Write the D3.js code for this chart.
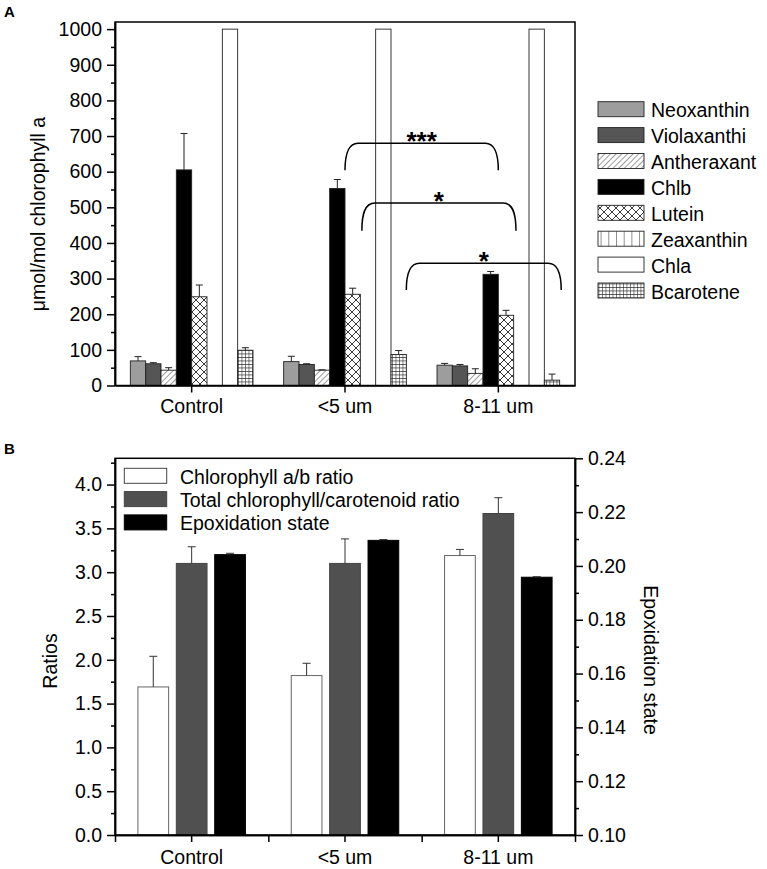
<!DOCTYPE html>
<html><head><meta charset="utf-8">
<script src="https://cdn.jsdelivr.net/npm/d3@7"></script>
<style>
body{margin:0;background:#fff;}
text{font-family:"Liberation Sans",Arial,sans-serif;fill:#000;}
</style></head>
<body><svg id="c" width="767" height="869"></svg>
<script>
// ---------- data ----------
const categories = ["Control", "<5 um", "8-11 um"];
const pigments = ["Neoxanthin","Violaxanthi","Antheraxant","Chlb","Lutein","Zeaxanthin","Chla","Bcarotene"];
const neoxanthin = [69, 67, 57];      const neoxanthinErr = [12, 15, 5];
const violaxanthin = [61, 59, 55];    const violaxanthinErr = [3, 2, 4];
const antheraxanthin = [43, 43, 34];  const antheraxanthinErr = [7, 1, 13];
const chlb = [605, 553, 312];         const chlbErr = [102, 25, 8];
const lutein = [249, 256, 197];       const luteinErr = [33, 17, 14];
const zeaxanthin = [0, 0, 0];         const zeaxanthinErr = [0, 0, 0];
const chla = [1000, 1000, 1000];      const chlaErr = [0, 0, 0];
const bcarotene = [99, 87, 15];       const bcaroteneErr = [7, 11, 17];
const yTicksA = [0,100,200,300,400,500,600,700,800,900,1000];

// significance brackets (category-index units, values in umol/mol)
const bracketStart = [1.0, 1.11, 1.40];
const bracketEnd = [2.0, 2.115, 2.41];
const bracketTop = [680, 512, 343];
const bracketBottom = [604, 434, 268];
const bracketLabel = ["***", "*", "*"];

const ratioSeries = ["Chlorophyll a/b ratio", "Total chlorophyll/carotenoid ratio", "Epoxidation state"];
const abRatio = [1.69, 1.82, 3.19];   const abRatioErr = [0.35, 0.14, 0.07];
const chlCar = [3.10, 3.10, 3.67];    const chlCarErr = [0.19, 0.28, 0.18];
const epox = [0.2042, 0.2095, 0.1958]; const epoxErr = [0.0005, 0.0003, 0.0002];
const yTicksBLeft = [0,0.5,1,1.5,2,2.5,3,3.5,4];
const yTicksBRight = [0.10,0.12,0.14,0.16,0.18,0.20,0.22,0.24];

// ---------- setup ----------
const svg = d3.select("#c");
const FS = 19.5;
const defs = svg.append("defs");
function pat(id, w, h, draw, transform){
  const p = defs.append("pattern").attr("id", id).attr("patternUnits","userSpaceOnUse")
    .attr("width", w).attr("height", h);
  if (transform) p.attr("patternTransform", transform);
  p.append("rect").attr("width", w).attr("height", h).attr("fill", "#fff");
  draw(p);
}
pat("hatch", 4, 4, p => p.append("line").attr("x1",0).attr("y1",0).attr("x2",0).attr("y2",4).attr("stroke","#222").attr("stroke-width",0.9), "rotate(45)");
pat("cross", 8, 8, p => p.append("path").attr("d","M0,0L8,8M8,0L0,8").attr("stroke","#222").attr("stroke-width",0.9));
pat("vert", 7.7, 8, p => p.append("line").attr("x1",0).attr("y1",0).attr("x2",0).attr("y2",8).attr("stroke","#222").attr("stroke-width",1));
pat("grid", 3.5, 3.5, p => p.append("path").attr("d","M0,0V3.5M0,0H3.5").attr("stroke","#222").attr("stroke-width",1.1));

const fillsA = ["#9d9d9d", "#555555", "url(#hatch)", "#000", "url(#cross)", "url(#vert)", "#fff", "url(#grid)"];
const valuesA = [neoxanthin, violaxanthin, antheraxanthin, chlb, lutein, zeaxanthin, chla, bcarotene];
const errsA = [neoxanthinErr, violaxanthinErr, antheraxanthinErr, chlbErr, luteinErr, zeaxanthinErr, chlaErr, bcaroteneErr];

// ---------- Panel A ----------
const A = {l:115, r:575, t:22, b:385.5};
const xA = d3.scaleBand().domain(categories).range([A.l, A.r]).padding(0);
const bwA = xA.bandwidth();
const xInA = d3.scaleBand().domain(pigments).range([bwA*0.1, bwA*0.9]).padding(0);
const yA = d3.scaleLinear().domain([0, 1020]).range([A.b, A.t]);
const gA = svg.append("g");

pigments.forEach((p, i) => {
  categories.forEach((c, j) => {
    const v = valuesA[i][j];
    if (v <= 0) return;
    const x0 = xA(c) + xInA(p);
    gA.append("rect").attr("x", x0).attr("y", yA(v)).attr("width", xInA.bandwidth())
      .attr("height", yA(0) - yA(v)).attr("fill", fillsA[i]).attr("stroke", "#222").attr("stroke-width", 0.9);
    const e = errsA[i][j];
    if (e > 0) {
      const cx = x0 + xInA.bandwidth()/2;
      gA.append("line").attr("x1",cx).attr("x2",cx).attr("y1",yA(v)).attr("y2",yA(v+e)).attr("stroke","#222").attr("stroke-width",1);
      gA.append("line").attr("x1",cx-3.5).attr("x2",cx+3.5).attr("y1",yA(v+e)).attr("y2",yA(v+e)).attr("stroke","#222").attr("stroke-width",1);
    }
  });
});

// brackets
const xIdx = d3.scaleLinear().domain([0, 2]).range([xA(categories[0]) + bwA/2, xA(categories[2]) + bwA/2]);
bracketStart.forEach((s, i) => {
  const x0 = xIdx(s), x1 = xIdx(bracketEnd[i]);
  const yt = yA(bracketTop[i]), yb = yA(bracketBottom[i]);
  const r = 13;
  const d = `M${x0},${yb} C${x0},${yt+r*0.9} ${x0+r*0.2},${yt} ${x0+r},${yt} L${x1-r},${yt} C${x1-r*0.2},${yt} ${x1},${yt+r*0.9} ${x1},${yb}`;
  gA.append("path").attr("d", d).attr("fill","none").attr("stroke","#000").attr("stroke-width",1.5);
  gA.append("text").attr("x", (x0+x1)/2).attr("y", yt + 7).attr("text-anchor","middle")
    .style("font-size","26px").style("font-weight","bold").text(bracketLabel[i]);
});

// frame
gA.append("rect").attr("x",A.l).attr("y",A.t).attr("width",A.r-A.l).attr("height",A.b-A.t)
  .attr("fill","none").attr("stroke","#000").attr("stroke-width",1.5);

// axes A
const axA = gA.append("g").attr("transform",`translate(${A.l},0)`)
  .call(d3.axisLeft(yA).tickValues(yTicksA).tickSize(8).tickSizeOuter(0).tickPadding(5).tickFormat(d3.format("d")));
const axAm = gA.append("g").attr("transform",`translate(${A.l},0)`)
  .call(d3.axisLeft(yA).tickValues(yTicksA.slice(0,-1).map(d => d + 50)).tickSize(4).tickSizeOuter(0).tickFormat(""));
const axAx = gA.append("g").attr("transform",`translate(0,${A.b})`)
  .call(d3.axisBottom(xA).tickSize(7).tickSizeOuter(0).tickPadding(7));
[axA, axAm, axAx].forEach(g => {
  g.select(".domain").attr("stroke-width",1.5);
  g.selectAll(".tick line").attr("stroke-width",1.5);
  g.selectAll("text").style("font-size",FS+"px").style("font-family",'"Liberation Sans",Arial,sans-serif');
});
gA.append("text").attr("transform","translate(45,214) rotate(-90)").attr("text-anchor","middle")
  .style("font-size",FS+"px").text("μmol/mol chlorophyll a");
svg.append("text").attr("x",4).attr("y",17).style("font-size","15px").style("font-weight","bold").text("A");

// legend A
const legA = svg.append("g");
pigments.forEach((p, i) => {
  const y = 101.7 + i*25.9;
  legA.append("rect").attr("x",598).attr("y",y).attr("width",46).attr("height",15)
    .attr("fill",fillsA[i]).attr("stroke","#222").attr("stroke-width",0.9);
  legA.append("text").attr("x",651).attr("y",y+15.5).style("font-size",FS+"px").text(p);
});

// ---------- Panel B ----------
const B = {l:115, r:575, t:458.3, b:835};
const xB = d3.scaleBand().domain(categories).range([B.l, B.r]).padding(0);
const bwB = xB.bandwidth();
const xInB = d3.scaleBand().domain(ratioSeries).range([bwB/2-53.75, bwB/2+53.75]).paddingInner(0.2).paddingOuter(0);
const yBL = d3.scaleLinear().domain([0, 4.3]).range([B.b, B.t]);
const yBR = d3.scaleLinear().domain([0.10, 0.24]).range([B.b, B.t]);
const gB = svg.append("g");
const valuesB = [abRatio, chlCar, epox];
const errsB = [abRatioErr, chlCarErr, epoxErr];
const scalesB = [yBL, yBL, yBR];
const fillsB = ["#fff", "#505050", "#000"];
const strokesB = ["#666", "#444", "#000"];

ratioSeries.forEach((s, i) => {
  const ys = scalesB[i];
  categories.forEach((c, j) => {
    const v = valuesB[i][j], e = errsB[i][j];
    const x0 = xB(c) + xInB(s), w = xInB.bandwidth();
    gB.append("rect").attr("x",x0).attr("y",ys(v)).attr("width",w).attr("height",ys.range()[0]-ys(v))
      .attr("fill",fillsB[i]).attr("stroke",strokesB[i]).attr("stroke-width",1);
    const cx = x0 + w/2;
    gB.append("line").attr("x1",cx).attr("x2",cx).attr("y1",ys(v)).attr("y2",ys(v+e)).attr("stroke","#333").attr("stroke-width",1);
    gB.append("line").attr("x1",cx-4).attr("x2",cx+4).attr("y1",ys(v+e)).attr("y2",ys(v+e)).attr("stroke","#333").attr("stroke-width",1);
  });
});

gB.append("rect").attr("x",B.l).attr("y",B.t).attr("width",B.r-B.l).attr("height",B.b-B.t)
  .attr("fill","none").attr("stroke","#000").attr("stroke-width",1.5);

const axBL = gB.append("g").attr("transform",`translate(${B.l},0)`)
  .call(d3.axisLeft(yBL).tickValues(yTicksBLeft).tickSize(8).tickSizeOuter(0).tickPadding(5).tickFormat(d3.format(".1f")));
const axBLm = gB.append("g").attr("transform",`translate(${B.l},0)`)
  .call(d3.axisLeft(yBL).tickValues(yTicksBLeft.map(d => d + 0.25)).tickSize(4).tickSizeOuter(0).tickFormat(""));
const axBR = gB.append("g").attr("transform",`translate(${B.r},0)`)
  .call(d3.axisRight(yBR).tickValues(yTicksBRight).tickSize(8).tickSizeOuter(0).tickPadding(5).tickFormat(d3.format(".2f")));
const axBRm = gB.append("g").attr("transform",`translate(${B.r},0)`)
  .call(d3.axisRight(yBR).tickValues(yTicksBRight.slice(0,-1).map(d => d + 0.01)).tickSize(4).tickSizeOuter(0).tickFormat(""));
const axBx = gB.append("g").attr("transform",`translate(0,${B.b})`)
  .call(d3.axisBottom(xB).tickSize(7).tickSizeOuter(0).tickPadding(8));
const axBxm = gB.append("g").attr("transform",`translate(0,${B.b})`)
  .call(d3.axisBottom(d3.scaleLinear().domain([0,3]).range([B.l,B.r])).tickValues([0,1,2,3]).tickSize(7).tickSizeOuter(0).tickFormat(""));
[axBL, axBLm, axBR, axBRm, axBx, axBxm].forEach(g => {
  g.select(".domain").attr("stroke-width",1.5);
  g.selectAll(".tick line").attr("stroke-width",1.5);
  g.selectAll("text").style("font-size",FS+"px").style("font-family",'"Liberation Sans",Arial,sans-serif');
});
gB.append("text").attr("transform","translate(57,661) rotate(-90)").attr("text-anchor","middle")
  .style("font-size",FS+"px").text("Ratios");
gB.append("text").attr("transform","translate(644,660) rotate(90)").attr("text-anchor","middle")
  .style("font-size",FS+"px").text("Epoxidation state");
svg.append("text").attr("x",4).attr("y",454).style("font-size","15px").style("font-weight","bold").text("B");

// legend B
const legB = svg.append("g");
ratioSeries.forEach((s, i) => {
  const y = 468.3 + i*23.3;
  legB.append("rect").attr("x",124.3).attr("y",y).attr("width",42.4).attr("height",15)
    .attr("fill",fillsB[i]).attr("stroke",strokesB[i] === "#666" ? "#444" : strokesB[i]).attr("stroke-width",1);
  legB.append("text").attr("x",180).attr("y",y+15.5).style("font-size",FS+"px").text(s);
});
</script></body></html>
